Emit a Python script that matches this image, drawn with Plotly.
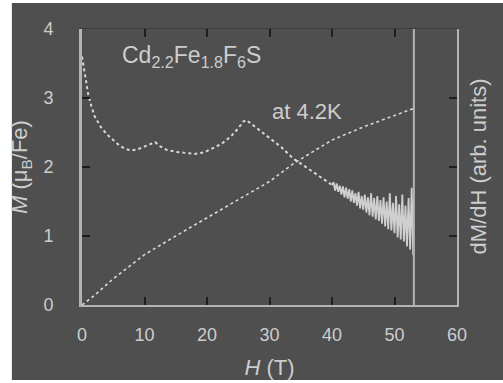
import plotly.graph_objects as go

# Magnetization M (left axis)
H_m = [0, 2, 5, 10, 15, 20, 25, 30, 34, 40, 45, 50, 53.1]
M_vals = [0, 0.14, 0.38, 0.73, 1.0, 1.26, 1.52, 1.79, 2.06, 2.39, 2.58, 2.74, 2.85]

# dM/dH (right axis, arb. units) - smooth part
H_d = [0, 0.3, 0.6, 1, 1.5, 2, 3, 4, 5, 6, 7, 8, 9, 10, 11, 11.7, 12.5, 13.5, 15,
       16.5, 18, 19.5, 21, 22, 23, 24, 25, 25.8, 26.3, 27, 28, 29, 30, 31, 32, 33,
       34, 35, 36, 37, 38, 39, 40]
dM_vals = [3.6, 3.45, 3.25, 3.05, 2.88, 2.74, 2.58, 2.47, 2.39, 2.31, 2.26, 2.24, 2.26,
           2.30, 2.34, 2.36, 2.30, 2.25, 2.22, 2.20, 2.19, 2.21, 2.27, 2.32, 2.38, 2.46,
           2.56, 2.66, 2.68, 2.63, 2.57, 2.50, 2.42, 2.35, 2.28, 2.19, 2.11, 2.05, 1.99,
           1.93, 1.87, 1.80, 1.74]

# dM/dH - noisy high-field part
H_n = [40.25, 40.5, 40.75, 41, 41.25, 41.5, 41.75, 42, 42.25, 42.5, 42.75, 43, 43.25,
       43.5, 43.75, 44, 44.25, 44.5, 44.75, 45, 45.25, 45.5, 45.75, 46, 46.25, 46.5,
       46.75, 47, 47.25, 47.5, 47.75, 48, 48.25, 48.5, 48.75, 49, 49.25, 49.5, 49.75,
       50, 50.25, 50.5, 50.75, 51, 51.25, 51.5, 51.75, 52, 52.25, 52.5, 52.75, 53.0]
dM_n = [1.78, 1.66, 1.76, 1.64, 1.73, 1.60, 1.72, 1.56, 1.70, 1.54, 1.68, 1.50, 1.66,
        1.48, 1.62, 1.44, 1.64, 1.40, 1.58, 1.38, 1.60, 1.34, 1.56, 1.30, 1.62, 1.28,
        1.55, 1.24, 1.58, 1.22, 1.52, 1.18, 1.56, 1.14, 1.50, 1.10, 1.62, 1.08, 1.48,
        1.04, 1.58, 0.98, 1.46, 0.95, 1.60, 0.92, 1.44, 0.85, 1.55, 0.80, 1.70, 0.72]

x_ticks = [0, 10, 20, 30, 40, 50, 60]
y_ticks = [0, 1, 2, 3, 4]
H_max = 53.1

BG = "#4f4f4f"
FG = "#cdcdcd"
LINE = "#b4b4b4"
FONT = "Liberation Sans, Arial, sans-serif"

fig = go.Figure()
fig.add_trace(go.Scatter(x=H_m, y=M_vals, mode="lines",
                         line=dict(color="#d8d8d8", width=1.6, dash="dot"),
                         showlegend=False))
fig.add_trace(go.Scatter(x=H_d, y=dM_vals, mode="lines", yaxis="y2",
                         line=dict(color="#d8d8d8", width=2, dash="dot"),
                         showlegend=False))
fig.add_trace(go.Scatter(x=[H_d[-1]] + H_n, y=[dM_vals[-1]] + dM_n, mode="lines", yaxis="y2",
                         line=dict(color="#cfcfcf", width=1.8),
                         showlegend=False))

# vertical line at max field
fig.add_shape(type="line", xref="x", yref="paper", x0=H_max, x1=H_max, y0=0, y1=1,
              line=dict(color=LINE, width=2))
# gray background with thin white border strips
fig.add_shape(type="rect", xref="paper", yref="paper", x0=-0.187, x1=1.2, y0=-0.272, y1=1.094,
              fillcolor=BG, line=dict(width=0), layer="below")

axis_common = dict(showgrid=False, zeroline=False, ticks="inside", ticklen=8,
                   tickcolor="#1e1e1e", tickwidth=1.5, automargin=False,
                   tickfont=dict(color=FG, size=18, family=FONT))

fig.update_layout(
    width=503, height=383,
    margin=dict(l=82, r=46, t=29, b=78),
    paper_bgcolor="white", plot_bgcolor=BG,
    font=dict(family=FONT, color=FG),
    xaxis=dict(range=[0, 60], tickvals=x_ticks, showline=True, linecolor=LINE,
               linewidth=2, mirror=False, ticklabelstandoff=12,
               title=dict(text="<i>H</i> (T)", font=dict(size=22, color=FG), standoff=16),
               **axis_common),
    xaxis2=dict(range=[0, 60], tickvals=x_ticks, overlaying="x", side="top",
                showticklabels=False, showline=True, linecolor="#3c3c3c", linewidth=1,
                **axis_common),
    yaxis=dict(range=[0, 4], tickvals=y_ticks, showline=True, linecolor=LINE,
               linewidth=3, ticklabelstandoff=22,
               title=dict(text="<i>M</i> (μ<sub>B</sub>/Fe)", font=dict(size=22, color=FG),
                          standoff=10),
               **axis_common),
    yaxis2=dict(range=[0, 4], tickvals=y_ticks, overlaying="y", side="right",
                showticklabels=False, showline=True, linecolor=LINE, linewidth=2,
                **axis_common),
)

# invisible trace so the top axis is drawn
fig.add_trace(go.Scatter(x=[0], y=[0], xaxis="x2", mode="markers",
                         marker=dict(opacity=0), showlegend=False, hoverinfo="skip"))

fig.add_annotation(x=(492 - 82) / 375, y=0.5, xref="paper", yref="paper",
                   text="dM/dH (arb. units)", textangle=-90, showarrow=False,
                   font=dict(size=22, color=FG, family=FONT))
fig.add_annotation(x=6.0, y=3.6, xref="x", yref="y", xanchor="left",
                   text="Cd<sub>2.2</sub>Fe<sub>1.8</sub>F<sub>6</sub>S", showarrow=False,
                   font=dict(size=23, color=FG, family=FONT))
fig.add_annotation(x=30.0, y=2.8, xref="x", yref="y", xanchor="left",
                   text="at 4.2K", showarrow=False,
                   font=dict(size=22, color=FG, family=FONT))

fig.write_html("out.html", config={"displayModeBar": False},
               post_script="document.body.style.margin='0';")
